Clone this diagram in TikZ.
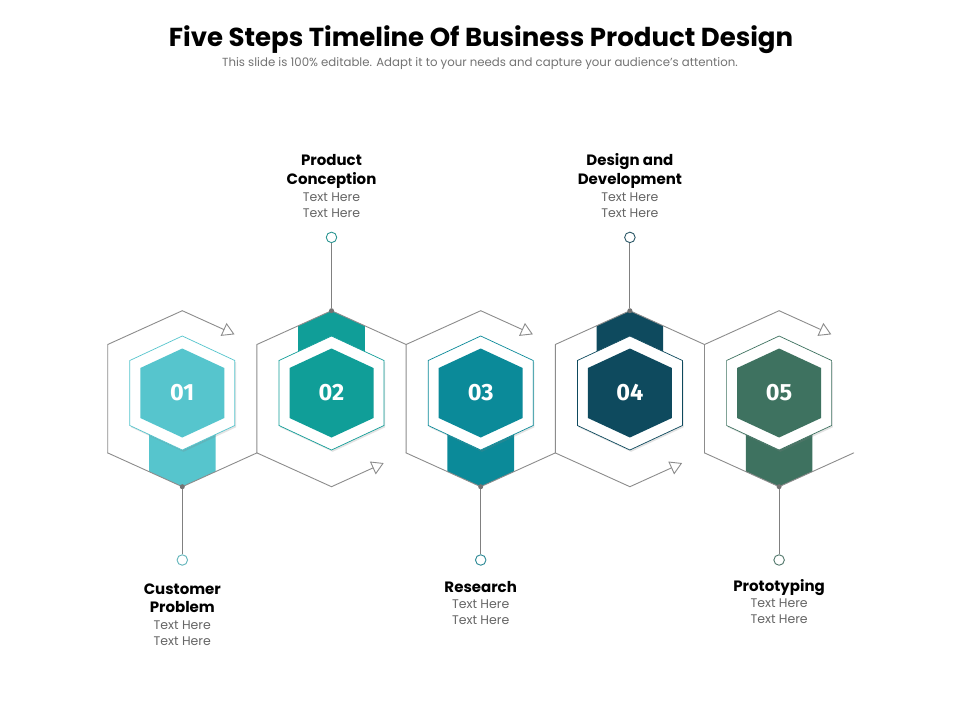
\documentclass[tikz,border=0pt]{standalone}
\usepackage{fontspec}
\setmainfont{Poppins}
\newfontfamily\numfont{Fira Sans}
\usepackage{tikz}
\usetikzlibrary{arrows.meta}
\usetikzlibrary{positioning}
\usetikzlibrary{calc}
\usetikzlibrary{shadows}
\tikzstyle{dot}=[fill=black!55,circle,minimum size=5pt,inner sep=0pt]
\tikzstyle{ring}=[draw,fill=white,circle,minimum size=10.5pt,inner sep=0pt,line width=0.9pt]
\newcommand{\stephead}[1]{{\color{black}\bfseries\fontsize{15}{16}\selectfont #1}}

\begin{document}
\begin{tikzpicture}[x=1pt,y=-1pt,
  outline/.style={draw=black!45,line width=0.9pt,line cap=round,line join=round},
  arrowed/.style={outline,-{Triangle[open,length=12pt,width=14pt]}},
  white hex/.style={fill=white,line width=0.7pt,drop shadow={shadow xshift=1.2pt,shadow yshift=-1.8pt,opacity=0.22}},
  num/.style={text=white,font=\numfont\bfseries\fontsize{23.5}{23.5}\selectfont},
  notes/.style={align=center,inner sep=0pt,text=black!60,font=\fontsize{12.5}{16}\selectfont},
  link/.style={draw=black!50,line width=1.1pt},
]
  \definecolor{tone 1}{HTML}{56C5CD}
  \definecolor{tone 2}{HTML}{109E98}
  \definecolor{tone 3}{HTML}{0B8A99}
  \definecolor{tone 4}{HTML}{0E4A5E}
  \definecolor{tone 5}{HTML}{3E7260}
  \useasboundingbox (0,0) rectangle (960,720);
  \fill[white] (0,0) rectangle (960,720);

  \node[font=\bfseries\fontsize{26}{26}\selectfont,anchor=base] (title) at (481,46.7) {Five Steps Timeline Of Business Product Design};
  \node[font=\fontsize{11.75}{12}\selectfont,text=black!55,anchor=base] (subtitle) at (480,66) {This slide is 100\% editable. Adapt it to your needs and capture your audience's attention.};

  % corners of the big hexagons
  \foreach \i in {1,...,5} {
    \coordinate (c\i) at ({182.3+149.2*(\i-1)},398.7);
    \coordinate (m\i) at ($(c\i)+(0,-5.7)$);
    \coordinate (t\i) at ($(c\i)+(0,-88)$);
    \coordinate (b\i) at ($(c\i)+(0,88)$);
    \coordinate (ul\i) at ($(c\i)+(-74.6,-54.2)$);
    \coordinate (ll\i) at ($(c\i)+(-74.6,54.2)$);
    \coordinate (ur\i) at ($(c\i)+(74.6,-54.2)$);
    \coordinate (lr\i) at ($(c\i)+(74.6,54.2)$);
  }

  % bars
  \foreach \i/\s in {1/1,2/-1,3/1,4/-1,5/1}
    \fill[tone \i] ($(m\i)+(-33.3,0)$) -- ($(c\i)+(-33.3,{72.9*\s})$) -- ($(c\i)+(0,{88*\s})$)
      -- ($(c\i)+(33.3,{72.9*\s})$) -- ($(m\i)+(33.3,0)$) -- cycle;

  % zigzag
  \foreach \i in {1,...,5} {
    \draw[outline] (ll\i) -- (ul\i) -- (t\i);
    \ifodd\i
      \draw[arrowed] (t\i) -- ($(t\i)!0.7!(ur\i)$);
      \draw[outline] (ll\i) -- (b\i) -- (lr\i);
    \else
      \draw[outline] (t\i) -- (ur\i);
      \draw[outline] (ll\i) -- (b\i);
      \draw[arrowed] (b\i) -- ($(b\i)!0.7!(lr\i)$);
    \fi
  }

  % hexagons with numbers
  \foreach \i in {1,...,5} {
    \filldraw[white hex,draw=tone \i,shift={(m\i)}] (0,-57) -- (52.5,-32.5) -- (52.5,32.5)
      -- (0,57) -- (-52.5,32.5) -- (-52.5,-32.5) -- cycle;
    \fill[tone \i,shift={(m\i)}] (0,-44.5) -- (42,-25) -- (42,25) -- (0,44.5) -- (-42,25) -- (-42,-25) -- cycle;
    \node[num] (n\i) at (m\i) {0\i};
  }

  % connectors
  \foreach \i/\v/\s in {1/b/1,2/t/-1,3/b/1,4/t/-1,5/b/1} {
    \node[dot] (d\i) at (\v\i) {};
    \node[ring,draw=tone \i!75!gray] (r\i) at ($(\v\i)+(0,{73.3*\s})$) {};
    \draw[link] (d\i) -- (r\i);
  }

  % texts
  \node[notes,below=17.5pt of r1] (x1) {\stephead{Customer}\\[2pt]\stephead{Problem}\\[1pt]Text Here\\Text Here};
  \node[notes,above=13.7pt of r2] (x2) {\stephead{Product}\\[3pt]\stephead{Conception}\\[1pt]Text Here\\Text Here};
  \node[notes,below=15.5pt of r3] (x3) {\stephead{Research}\\Text Here\\Text Here};
  \node[notes,above=13.7pt of r4] (x4) {\stephead{Design and}\\[3pt]\stephead{Development}\\[1pt]Text Here\\Text Here};
  \node[notes,below=14pt of r5] (x5) {\stephead{Prototyping}\\[-0.5pt]Text Here\\Text Here};
\end{tikzpicture}
\end{document}
